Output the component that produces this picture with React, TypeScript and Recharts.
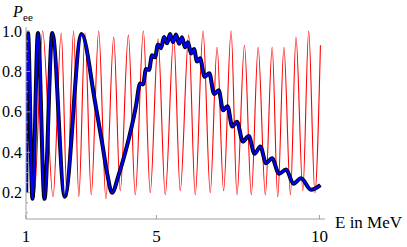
import React from "react";
import { LineChart, Line, XAxis, YAxis } from "recharts";

// fast oscillating probability (red), energy in MeV
const redE = [
  1.0, 1.06, 1.25, 1.51, 1.83, 2.08, 2.26, 2.46, 2.62, 2.81, 3.0, 3.23, 3.45, 3.69, 3.89, 4.14, 4.35, 4.6,
  4.81, 5.05, 5.27, 5.53, 5.73, 5.99, 6.19, 6.43, 6.65, 6.86, 7.06, 7.29, 7.47, 7.7, 7.91, 8.12, 8.34, 8.55,
  8.72, 8.91, 9.11, 9.28, 9.49, 9.67, 9.86, 10.03,
];
const redP = [
  0.75, 1.0, 0.18, 1.0, 0.18, 0.99, 0.18, 1.0, 0.18, 0.99, 0.19, 1.0, 0.17, 0.97, 0.21, 0.98, 0.19, 1.0,
  0.2, 0.96, 0.19, 0.97, 0.21, 0.98, 0.19, 1.0, 0.2, 0.92, 0.21, 1.0, 0.19, 0.93, 0.19, 0.92, 0.19, 0.92,
  0.18, 0.92, 0.19, 0.97, 0.21, 1.0, 0.2, 0.93,
];

// averaged probability (blue / black)
const blueE = [
  1.006, 1.061, 1.199, 1.368, 1.567, 1.807, 2.187, 2.702, 3.117, 3.331, 3.485, 3.638, 3.844, 4.046, 4.252,
  4.374, 4.497, 4.589, 4.681, 4.773, 4.865, 4.957, 5.049, 5.141, 5.233, 5.325, 5.417, 5.509, 5.601, 5.693,
  5.785, 5.877, 5.969, 6.061, 6.153, 6.245, 6.337, 6.479, 6.623, 6.767, 6.911, 7.043, 7.181, 7.325, 7.472,
  7.65, 7.831, 8.009, 8.187, 8.362, 8.546, 8.761, 8.975, 9.206, 9.436, 9.742, 10.028,
];
const blueP = [
  0.2, 0.99, 0.17, 0.99, 0.17, 0.99, 0.18, 0.985, 0.65, 0.45, 0.3, 0.2, 0.29, 0.4, 0.535,
  0.63, 0.74, 0.736, 0.812, 0.808, 0.88, 0.87, 0.934, 0.915, 0.97, 0.939, 0.985, 0.945, 0.983, 0.937,
  0.969, 0.92, 0.945, 0.889, 0.911, 0.849, 0.865, 0.774, 0.791, 0.689, 0.707, 0.608, 0.628, 0.528, 0.551,
  0.453, 0.481, 0.3925, 0.429, 0.346, 0.37, 0.294, 0.315, 0.2445, 0.272, 0.215, 0.238,
];

const xTicks = [1, 5, 10];
const yTicks = [
  0.1, 0.15, 0.2, 0.25, 0.3, 0.35, 0.4, 0.45, 0.5, 0.55, 0.6, 0.65, 0.7, 0.75, 0.8, 0.85, 0.9, 0.95, 1.0,
];
const yMajor = [0.2, 0.4, 0.6, 0.8, 1.0];

const redData = redE.map((e, i) => ({ e, p: redP[i] }));
const blueData = blueE.map((e, i) => ({ e, p: blueP[i] }));

const axisGray = "#a0a0a0";
const font = "'Liberation Serif', 'DejaVu Serif', serif";

const YTick = (props: any) => {
  const { x, y, payload } = props;
  const major = yMajor.some((m) => Math.abs(m - payload.value) < 1e-6);
  return (
    <g>
      <line x1={x} x2={x + (major ? 4 : 2)} y1={y} y2={y} stroke={axisGray} strokeWidth={1} />
      {major && (
        <text x={x - 4} y={y} dy="0.35em" textAnchor="end" fontSize={16} fontFamily={font} fill="#000">
          {payload.value.toFixed(1)}
        </text>
      )}
    </g>
  );
};

const XTick = (props: any) => {
  const { x, y, payload } = props;
  return (
    <g>
      <line x1={x} x2={x} y1={y} y2={y - 4} stroke={axisGray} strokeWidth={1} />
      <text x={x} y={y + 23} textAnchor="middle" fontSize={17} fontFamily={font} fill="#000">
        {payload.value}
      </text>
    </g>
  );
};

export default function App() {
  return (
    <div style={{ position: "absolute", left: 0, top: 0, width: 407, height: 247, background: "#fff" }}>
      <LineChart width={407} height={247} margin={{ top: 27, right: 82, bottom: 0, left: 0 }}>
        <XAxis
          type="number"
          dataKey="e"
          domain={[1, 10.17]}
          ticks={xTicks}
          allowDataOverflow
          height={28}
          tickSize={0}
          tickMargin={0}
          interval={0}
          tickLine={false}
          axisLine={{ stroke: axisGray }}
          tick={<XTick />}
        />
        <YAxis
          type="number"
          domain={[0.07, 1.02]}
          ticks={yTicks}
          allowDataOverflow
          width={26}
          tickSize={0}
          tickMargin={0}
          interval={0}
          tickLine={false}
          axisLine={{ stroke: axisGray }}
          tick={<YTick />}
        />
        <Line
          data={redData}
          dataKey="p"
          type="monotone"
          stroke="#ff0000"
          strokeWidth={1.1}
          dot={false}
          isAnimationActive={false}
        />
        <Line
          data={blueData}
          dataKey="p"
          type="monotone"
          stroke="#000000"
          strokeWidth={4}
          dot={false}
          isAnimationActive={false}
        />
        <Line
          data={blueData}
          dataKey="p"
          type="monotone"
          stroke="#0000ff"
          strokeWidth={2.2}
          dot={false}
          isAnimationActive={false}
        />
      </LineChart>
      <svg width={407} height={247} style={{ position: "absolute", left: 0, top: 0, pointerEvents: "none" }}>
        <text x={13} y={17} fontSize={16} fontFamily={font} fontStyle="italic" fill="#000">
          P
        </text>
        <text x={23} y={21} fontSize={11} fontFamily={font} fill="#000">
          ee
        </text>
        <text x={335} y={228} fontSize={17} fontFamily={font} fill="#000">
          E in MeV
        </text>
      </svg>
    </div>
  );
}
